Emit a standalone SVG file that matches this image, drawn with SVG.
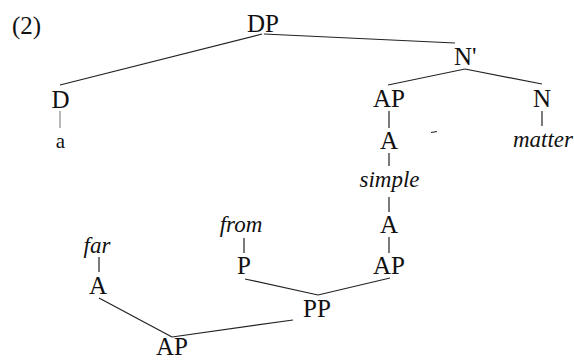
<svg xmlns="http://www.w3.org/2000/svg" width="574" height="360" viewBox="0 0 574 360">
<style>
text{font-family:'Liberation Serif','Times New Roman','DejaVu Serif',serif;fill:#111;text-anchor:middle}
.lbl{font-size:25px}
.word{font-size:23px;font-style:italic}
.sm{font-size:21px}
.edge{stroke:#222;stroke-width:1.2;fill:none}
</style>
<rect width="574" height="360" fill="#fff"/>
<text x="12" y="34" class="lbl" text-anchor="start" style="text-anchor:start">(2)</text>
<g id="connectors">
<line class="edge" x1="262" y1="34" x2="60" y2="85"/>
<line class="edge" x1="264" y1="34" x2="455" y2="43"/>
<line class="edge" x1="465" y1="69" x2="388" y2="85"/>
<line class="edge" x1="465" y1="69" x2="542" y2="84"/>
<line class="edge" x1="60" y1="111" x2="60" y2="128" style="stroke:#888"/>
<line class="edge" x1="389" y1="111" x2="389" y2="128"/>
<line class="edge" x1="542" y1="111" x2="542" y2="126"/>
<line class="edge" x1="389" y1="153" x2="389" y2="166"/>
<line class="edge" x1="389" y1="197" x2="389" y2="212"/>
<line class="edge" x1="389" y1="237" x2="389" y2="253"/>
<line class="edge" x1="390" y1="278" x2="318" y2="295"/>
<line class="edge" x1="245" y1="279" x2="318" y2="295"/>
<line class="edge" x1="244" y1="238" x2="244" y2="253"/>
<line class="edge" x1="99" y1="257" x2="99" y2="272"/>
<line class="edge" x1="99" y1="298" x2="172" y2="337"/>
<line class="edge" x1="293" y1="320" x2="172" y2="337"/>
<line class="edge" x1="431" y1="132.5" x2="437" y2="131.5"/>
</g>
<g id="n-DP"><text x="263" y="32" class="lbl">DP</text></g>
<g id="n-Nbar"><text x="454" y="65" class="lbl" style="text-anchor:start">N'</text></g>
<g id="n-D"><text x="60.5" y="108" class="lbl">D</text></g>
<g id="n-a"><text x="60.5" y="148" class="sm">a</text></g>
<g id="n-AP1"><text x="389" y="107" class="lbl">AP</text></g>
<g id="n-N"><text x="542" y="107" class="lbl">N</text></g>
<g id="n-matter"><text x="543" y="147" class="word">matter</text></g>
<g id="n-A1"><text x="389" y="149" class="lbl">A</text></g>
<g id="n-simple"><text x="389.5" y="187" class="word">simple</text></g>
<g id="n-A2"><text x="389" y="233" class="lbl">A</text></g>
<g id="n-AP2"><text x="389" y="274" class="lbl">AP</text></g>
<g id="n-from"><text x="241" y="232" class="word">from</text></g>
<g id="n-P"><text x="244" y="274" class="lbl">P</text></g>
<g id="n-PP"><text x="317" y="317" class="lbl">PP</text></g>
<g id="n-far"><text x="97" y="253" class="word">far</text></g>
<g id="n-A3"><text x="98" y="294" class="lbl">A</text></g>
<g id="n-AP3"><text x="172" y="355" class="lbl">AP</text></g>
</svg>
